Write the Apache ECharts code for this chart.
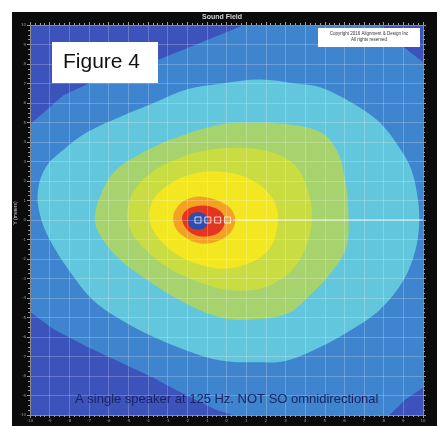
<!DOCTYPE html>
<html>
<head>
<meta charset="utf-8">
<script src="https://cdn.jsdelivr.net/npm/echarts@6/dist/echarts.min.js"></script>
<style>
  html, body { margin: 0; padding: 0; background: #ffffff; }
  #chart { width: 444px; height: 426px; }
</style>
</head>
<body>
<div id="chart"></div>
<script>
// Axis extent (meters) and tick values
const axisMin = -10;
const axisMax = 10;
const tickStep = 1;

// Contour bands of the sound pressure level, outermost first, as [x, y] in meters
const bandMidBlue = [
  [0.9, 10], [10, 10], [10, -8.6], [9.1, -9.2], [8.3, -10], [0.3, -10],
  [-0.6, -9.7], [-1.6, -9.2], [-2.6, -8.7], [-3.7, -8.1], [-5.4, -7.3],
  [-7.1, -6.5], [-8.8, -5.6], [-10, -4.7], [-10, 4.9], [-9.2, 5.6],
  [-8.3, 6.4], [-6.8, 7.1], [-5.4, 7.6], [-3.5, 8.2], [-1.3, 9.1]
];
const cornerLow = [
  [7.8, 10], [10, 10], [10, 8.1], [9.35, 8.6], [8.6, 9.2]
];
const bandCyan = [
  [1.7, 7.2], [3.5, 7.0], [4.8, 6.8], [6.4, 6.0], [7.8, 5.0], [8.8, 3.7],
  [9.4, 2.6], [9.75, 1.0], [9.8, -0.3], [9.6, -1.6], [9.0, -3.1], [7.8, -4.6],
  [6.4, -5.6], [4.8, -6.5], [3.1, -7.2], [1.7, -7.3], [-0.3, -7.2], [-2.0, -6.7],
  [-3.7, -6.0], [-5.4, -5.1], [-6.8, -4.1], [-8.0, -2.6], [-9.0, -1.0],
  [-9.5, 0.3], [-9.6, 1.5], [-9.2, 2.7], [-8.3, 3.6], [-7.1, 4.5], [-5.4, 5.3],
  [-3.7, 6.0], [-2.0, 6.7], [-0.2, 7.0]
];
const bandGreen = [
  [1.45, 5.0], [3.2, 4.9], [4.8, 4.5], [5.6, 3.6], [6.0, 2.3], [6.2, 0.5],
  [6.1, -1.4], [5.4, -2.6], [4.4, -3.7], [3.1, -4.8], [1.35, -5.1], [-0.3, -5.0],
  [-2.4, -4.1], [-4.0, -3.1], [-5.4, -2.05], [-6.3, -1.0], [-6.7, 0], [-6.4, 1.3],
  [-5.7, 2.5], [-4.55, 3.3], [-2.9, 4.1], [-0.3, 4.9]
];
const bandLime = [
  [0.4, 3.7], [2.2, 3.5], [3.5, 2.8], [4.15, 1.5], [4.35, 0], [4.0, -1.5],
  [3.2, -2.7], [1.8, -3.5], [0.2, -3.6], [-1.35, -3.2], [-2.9, -2.5], [-4.15, -1.5],
  [-4.9, -0.5], [-5.05, 0.5], [-4.65, 1.6], [-3.6, 2.6], [-2.1, 3.3], [-0.85, 3.6]
];
const bandYellow = [
  [-0.85, 2.5], [0.7, 2.3], [1.8, 1.7], [2.5, 0.8], [2.6, -0.25], [2.2, -1.45],
  [1.3, -2.15], [-0.1, -2.5], [-1.35, -2.3], [-2.5, -1.8], [-3.4, -1.0],
  [-3.9, -0.1], [-3.8, 0.9], [-3.1, 1.7], [-2.1, 2.25]
];
const bandOrange = [
  [-1.35, 1.2], [-0.45, 1.0], [0.2, 0.6], [0.45, 0], [0.2, -0.65], [-0.5, -1.1],
  [-1.35, -1.2], [-2.1, -0.9], [-2.6, -0.4], [-2.7, 0.25], [-2.4, 0.8], [-1.9, 1.1]
];
const bandRed = [
  [-1.2, 0.75], [-0.55, 0.6], [-0.15, 0.25], [-0.1, -0.2], [-0.4, -0.65],
  [-1.1, -0.85], [-1.75, -0.7], [-2.15, -0.3], [-2.25, 0.2], [-1.9, 0.6]
];
const bandCore = [
  [-1.45, 0.4], [-1.1, 0.3], [-0.95, -0.05], [-1.1, -0.4], [-1.45, -0.5],
  [-1.8, -0.4], [-1.95, -0.05], [-1.8, 0.3]
];

// Speaker elements and on-axis reference line
const speakerX = [-1.45, -0.95, -0.45, 0.05];
const speakerY = 0;
const axisLineStart = 0.35;

const chart = echarts.init(document.getElementById('chart'), null, { renderer: 'canvas' });

function band(points, color, z, smooth) {
  return {
    type: 'custom',
    coordinateSystem: 'cartesian2d',
    clip: true,
    silent: true,
    z: z,
    data: [[0, 0]],
    renderItem: function (params, api) {
      return {
        type: 'polygon',
        shape: { points: points.map(function (p) { return api.coord(p); }), smooth: smooth },
        style: { fill: color }
      };
    }
  };
}

const axisCommon = {
  type: 'value',
  min: axisMin,
  max: axisMax,
  interval: tickStep,
  z: 10,
  axisLine: { show: true, onZero: false, lineStyle: { color: '#8a8a8a', width: 1 } },
  axisTick: { show: true, length: 3, lineStyle: { color: '#9a9a9a' } },
  minorTick: { show: true, splitNumber: 4, length: 2, lineStyle: { color: '#9a9a9a' } },
  splitLine: { show: true, lineStyle: { color: 'rgba(255,255,255,0.22)', width: 1 } },
  axisLabel: { show: true, fontSize: 4, color: '#9a9a9a', margin: 4, fontFamily: 'DejaVu Sans' }
};

const option = {
  backgroundColor: '#ffffff',
  animation: false,
  grid: {
    left: 30, top: 25, width: 393, height: 390,
    outerBoundsMode: 'none', containLabel: false,
    show: true, backgroundColor: '#3d53bc', borderWidth: 0
  },
  xAxis: [
    Object.assign({}, axisCommon, {
      position: 'bottom',
      name: 'X (meters)', nameLocation: 'middle', nameGap: 8,
      nameTextStyle: { fontSize: 4, color: '#9a9a9a' }
    }),
    Object.assign({}, axisCommon, {
      position: 'top',
      splitLine: { show: false },
      axisLabel: { show: false }
    })
  ],
  yAxis: [
    Object.assign({}, axisCommon, { position: 'left' }),
    Object.assign({}, axisCommon, {
      position: 'right',
      splitLine: { show: false },
      axisLabel: { show: false }
    })
  ],
  graphic: [
    { type: 'rect', z: -100, shape: { x: 12, y: 12, width: 425, height: 414 }, style: { fill: '#0b0b0b' } },
    { type: 'text', left: 'center', top: 14, style: { text: 'Sound Field', fill: '#d8d8d8', font: 'bold 7px "Liberation Sans", Arial, sans-serif' } },
    { type: 'text', x: 16, y: 213, rotation: Math.PI / 2, style: { text: 'Y (meters)', fill: '#cfcfcf', align: 'center', verticalAlign: 'middle', font: '5px "Liberation Sans", Arial, sans-serif' } },
    { type: 'rect', z: 50, shape: { x: 52, y: 42, width: 106, height: 41 }, style: { fill: '#ffffff' } },
    { type: 'text', z: 51, x: 63, y: 52, style: { text: 'Figure 4', fill: '#111111', font: '21px "Liberation Sans", Arial, sans-serif' } },
    { type: 'rect', z: 50, shape: { x: 318, y: 28, width: 102, height: 19 }, style: { fill: '#ffffff' } },
    { type: 'text', z: 51, x: 369, y: 31, style: { text: 'Copyright 2016 Alignment & Design Inc\nAll rights reserved', fill: '#333333', align: 'center', font: '4.5px "Liberation Sans", Arial, sans-serif', lineHeight: 6 } },
    { type: 'text', z: 51, x: 75, y: 393, style: { text: 'A single speaker at 125 Hz. NOT SO omnidirectional', fill: '#1b2462', font: '13px "Liberation Sans", Arial, sans-serif' } }
  ],
  series: [
    band(bandMidBlue, '#3f84cf', 2, 0),
    band(cornerLow, '#3d53bc', 2, 0),
    band(bandCyan, '#62c7dd', 3, 0.35),
    band(bandGreen, '#a6d36e', 4, 0.35),
    band(bandLime, '#c9dc42', 5, 0.35),
    band(bandYellow, '#f3e722', 6, 0.35),
    band(bandOrange, '#f5a124', 7, 0.35),
    band(bandRed, '#e4351f', 8, 0.35),
    band(bandCore, '#2f4cae', 9, 0.35),
    {
      type: 'line', z: 11, silent: true, symbol: 'none',
      data: [[axisLineStart, speakerY], [axisMax, speakerY]],
      lineStyle: { color: 'rgba(255,255,255,0.85)', width: 1 }
    },
    {
      type: 'scatter', z: 12, silent: true, symbol: 'rect', symbolSize: 6,
      data: speakerX.map(function (x) { return [x, speakerY]; }),
      itemStyle: { color: 'rgba(255,255,255,0)', borderColor: '#ffffff', borderWidth: 1 }
    }
  ]
};

chart.setOption(option);
</script>
</body>
</html>
